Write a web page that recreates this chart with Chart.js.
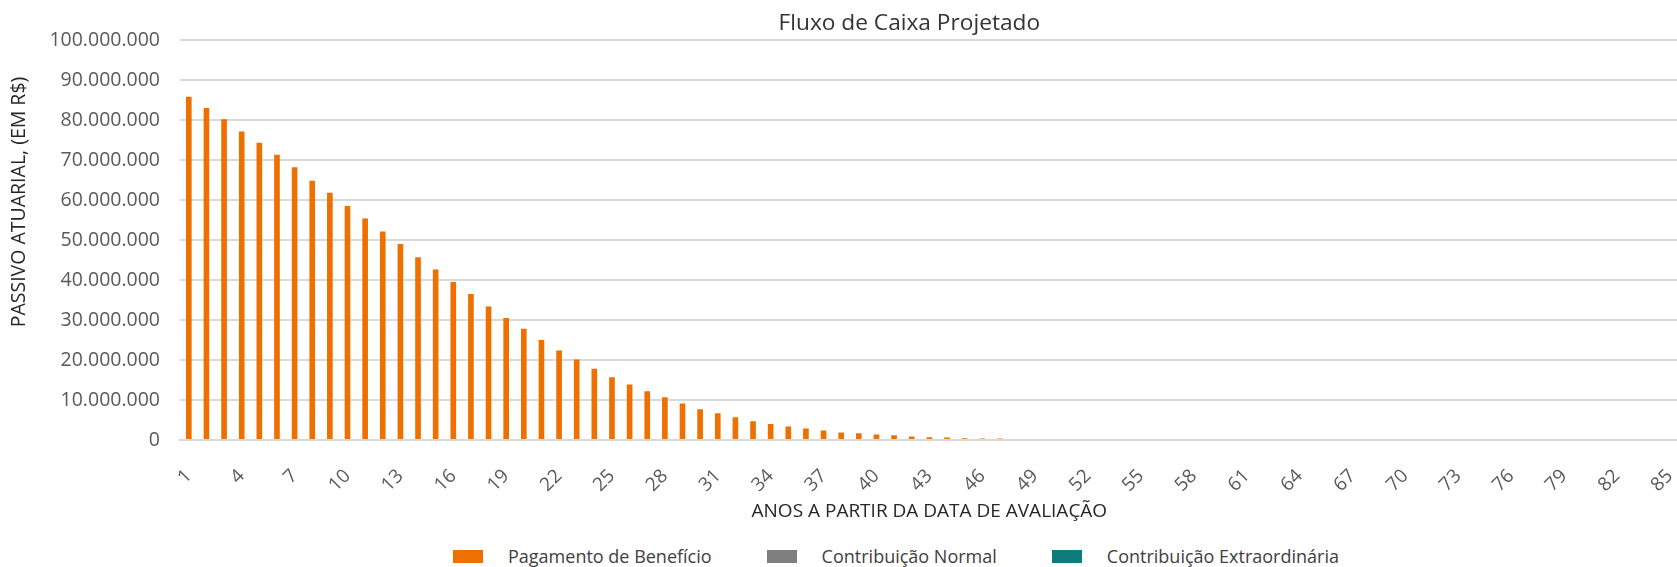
<!DOCTYPE html>
<html lang="pt-BR">
<head>
<meta charset="UTF-8">
<title>Fluxo de Caixa Projetado</title>
<script src="https://cdn.jsdelivr.net/npm/chart.js"></script>
<style>
  html, body { margin: 0; padding: 0; background: #fff; overflow: hidden; }
  #wrap { width: 1703px; height: 567px; position: relative; }
  #chart-container { width: 1703px; height: 535px; position: relative; }
  #legend { position: absolute; top: 544px; left: 453px; height: 24px; display: flex; align-items: center;
            font-family: "Open Sans", sans-serif; font-size: 18px; color: #404040; }
  #legend .item { display: flex; align-items: center; margin-right: 55px; white-space: nowrap; }
  #legend .box { width: 30px; height: 13px; margin-right: 25px; }
</style>
</head>
<body>
<div id="wrap">
  <div id="chart-container">
    <canvas id="fluxoChart"></canvas>
  </div>
  <div id="legend"></div>
</div>

<script>
// anos a partir da data de avaliação
const anos = [1,2,3,4,5,6,7,8,9,10,11,12,13,14,15,16,17,18,19,20,21,22,23,24,25,26,27,28,29,30,
  31,32,33,34,35,36,37,38,39,40,41,42,43,44,45,46,47,48,49,50,51,52,53,54,55,56,57,58,59,60,
  61,62,63,64,65,66,67,68,69,70,71,72,73,74,75,76,77,78,79,80,81,82,83,84,85];

// valores (R$)
const pagamentoBeneficio = [85800000,83000000,80200000,77100000,74300000,71300000,68200000,64800000,61800000,58500000,
  55400000,52100000,49000000,45700000,42600000,39500000,36500000,33400000,30500000,27800000,
  25000000,22400000,20100000,17800000,15700000,13900000,12200000,10700000,9100000,7700000,
  6700000,5700000,4700000,4000000,3400000,2900000,2400000,1900000,1700000,1400000,
  1200000,900000,700000,600000,450000,400000,350000,0,0,0,
  0,0,0,0,0,0,0,0,0,0, 0,0,0,0,0,0,0,0,0,0, 0,0,0,0,0,0,0,0,0,0, 0,0,0,0,0];
const contribuicaoNormal = [0,0,0,0,0,0,0,0,0,0, 0,0,0,0,0,0,0,0,0,0, 0,0,0,0,0,0,0,0,0,0,
  0,0,0,0,0,0,0,0,0,0, 0,0,0,0,0,0,0,0,0,0, 0,0,0,0,0,0,0,0,0,0, 0,0,0,0,0,0,0,0,0,0,
  0,0,0,0,0,0,0,0,0,0, 0,0,0,0,0];
const contribuicaoExtraordinaria = [0,0,0,0,0,0,0,0,0,0, 0,0,0,0,0,0,0,0,0,0, 0,0,0,0,0,0,0,0,0,0,
  0,0,0,0,0,0,0,0,0,0, 0,0,0,0,0,0,0,0,0,0, 0,0,0,0,0,0,0,0,0,0, 0,0,0,0,0,0,0,0,0,0,
  0,0,0,0,0,0,0,0,0,0, 0,0,0,0,0];

const yMax = 100000000;
const yStep = 10000000;

function formatBR(v) {
  return String(v).replace(/\B(?=(\d{3})+(?!\d))/g, '.');
}

// título do gráfico e do eixo Y (não ficam centralizados no original)
const titulos = {
  id: 'titulos',
  afterDraw(chart) {
    const { ctx, chartArea } = chart;
    ctx.save();
    ctx.textAlign = 'center';
    ctx.textBaseline = 'middle';
    ctx.fillStyle = '#333333';
    ctx.font = '22.7px "Open Sans"';
    ctx.fillText('Fluxo de Caixa Projetado', (chartArea.left + chartArea.right) / 2 - 20, 24);

    ctx.translate(19, chartArea.top + (chartArea.bottom - chartArea.top) * 0.405);
    ctx.rotate(-Math.PI / 2);
    ctx.fillStyle = '#262626';
    ctx.font = '19.5px "Open Sans"';
    ctx.fillText('PASSIVO ATUARIAL, (EM R$)', 0, 0);
    ctx.restore();
  }
};

const ctx = document.getElementById('fluxoChart').getContext('2d');
const chart = new Chart(ctx, {
  type: 'bar',
  data: {
    labels: anos,
    datasets: [
      { label: 'Pagamento de Benefício', data: pagamentoBeneficio, backgroundColor: '#ED7000' },
      { label: 'Contribuição Normal', data: contribuicaoNormal, backgroundColor: '#7F7F7F' },
      { label: 'Contribuição Extraordinária', data: contribuicaoExtraordinaria, backgroundColor: '#0E7C7B' }
    ]
  },
  options: {
    responsive: true,
    maintainAspectRatio: false,
    animation: false,
    datasets: { bar: { barPercentage: 0.32, categoryPercentage: 1 } },
    layout: { padding: { top: 40, right: 2, bottom: 0, left: 0 } },
    plugins: {
      tooltip: { enabled: false },
      legend: { display: false }
    },
    scales: {
      x: {
        stacked: true,
        grid: { display: false },
        border: { color: '#d9d9d9', width: 2 },
        ticks: {
          autoSkip: false,
          minRotation: 45,
          maxRotation: 45,
          padding: 17,
          color: '#595959',
          font: { family: 'Open Sans', size: 19 },
          callback: (v, i) => (i % 3 === 0 ? anos[i] : '')
        },
        title: {
          display: true,
          text: 'ANOS A PARTIR DA DATA DE AVALIAÇÃO',
          color: '#262626',
          font: { family: 'Open Sans', size: 19 },
          padding: { top: 4, bottom: 12 }
        },
        afterFit(scale) { scale.height = 95; }
      },
      y: {
        stacked: true,
        min: 0,
        max: yMax,
        grid: { color: '#d9d9d9', lineWidth: 2, drawTicks: false },
        border: { display: false },
        ticks: {
          stepSize: yStep,
          padding: 20,
          color: '#595959',
          font: { family: 'Open Sans', size: 19.5 },
          callback: v => formatBR(v)
        },
        afterFit(scale) { scale.width = 180; }
      }
    }
  },
  plugins: [titulos]
});

// legenda em HTML, montada a partir dos datasets
const legend = document.getElementById('legend');
chart.data.datasets.forEach(ds => {
  const item = document.createElement('div');
  item.className = 'item';
  const box = document.createElement('span');
  box.className = 'box';
  box.style.background = ds.backgroundColor;
  const txt = document.createElement('span');
  txt.textContent = ds.label;
  item.appendChild(box);
  item.appendChild(txt);
  legend.appendChild(item);
});
</script>
</body>
</html>
